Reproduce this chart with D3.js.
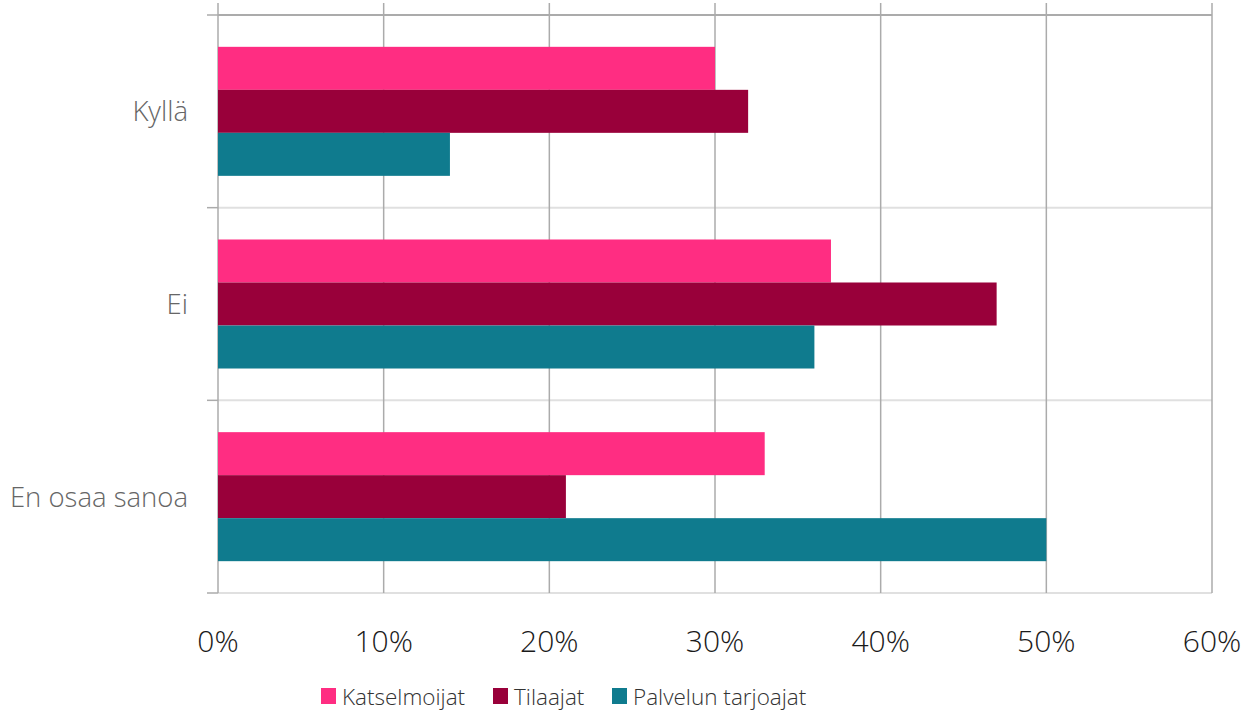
<!DOCTYPE html>
<html><head><meta charset="utf-8">
<script src="https://cdn.jsdelivr.net/npm/d3@7"></script>
<style>body{margin:0;background:#fff;} svg{display:block;}</style>
</head><body>
<svg id="chart" width="1244" height="712"></svg>
<script>
const categories = ["Kyllä", "Ei", "En osaa sanoa"];
const seriesNames = ["Katselmoijat", "Tilaajat", "Palvelun tarjoajat"];
const katselmoijat = [30, 37, 33];
const tilaajat = [32, 47, 21];
const palvelunTarjoajat = [14, 36, 50];
const xTicks = [0, 10, 20, 30, 40, 50, 60];
const colors = ["#FF2D82", "#99003A", "#0F7B8E"];

(function () {
const series = [katselmoijat, tilaajat, palvelunTarjoajat];
const svg = d3.select("#chart");
const pL = 218, pR = 1212, pT = 15, pB = 593;
const font = "'Open Sans', sans-serif";

const x = d3.scaleLinear().domain([0, 60]).range([pL, pR]);
const y = d3.scaleBand().domain(categories).range([pT, pB]).paddingInner(0).paddingOuter(0);
const inner = d3.scaleBand().domain(seriesNames).range([0, y.bandwidth()]).paddingOuter(0.74).paddingInner(0);

// horizontal category grid lines
const bounds = [pT, ...categories.slice(1).map(c => y(c)), pB];
bounds.forEach((b, i) => {
  svg.append("line").attr("x1", pL).attr("x2", pR).attr("y1", b).attr("y2", b)
    .attr("stroke", i === 0 ? "#ababab" : "#e0e0e0").attr("stroke-width", 2);
  svg.append("line").attr("x1", pL - 11).attr("x2", pL).attr("y1", b).attr("y2", b)
    .attr("stroke", "#ababab").attr("stroke-width", 1.5);
});

// vertical grid lines
svg.append("g").selectAll("line").data(xTicks).join("line")
  .attr("x1", d => x(d)).attr("x2", d => x(d)).attr("y1", 3).attr("y2", pB)
  .attr("stroke", "#ababab").attr("stroke-width", 1.5);

// bars
series.forEach((vals, si) => {
  svg.append("g").selectAll("rect").data(vals).join("rect")
    .attr("x", x(0))
    .attr("y", (d, i) => y(categories[i]) + inner(seriesNames[si]))
    .attr("width", d => x(d) - x(0))
    .attr("height", inner.bandwidth())
    .attr("fill", colors[si]);
});

// x tick labels
svg.append("g").selectAll("text").data(xTicks).join("text")
  .attr("x", d => x(d)).attr("y", 652)
  .attr("text-anchor", "middle")
  .attr("font-family", font).attr("font-weight", 300).attr("font-size", 30).attr("fill", "#1a1a1a")
  .text(d => d + "%");

// category labels
svg.append("g").selectAll("text").data(categories).join("text")
  .attr("x", 188).attr("y", d => y(d) + y.bandwidth() / 2 + 10)
  .attr("text-anchor", "end")
  .attr("font-family", font).attr("font-weight", 300).attr("font-size", 27.5).attr("fill", "#666")
  .text(d => d);

// legend
const legendX = [321, 493, 612];
seriesNames.forEach((n, i) => {
  const g = svg.append("g").attr("transform", `translate(${legendX[i]},0)`);
  g.append("rect").attr("x", 0).attr("y", 688).attr("width", 15).attr("height", 16).attr("fill", colors[i]);
  g.append("text").attr("x", 21).attr("y", 705)
    .attr("font-family", font).attr("font-weight", 300).attr("font-size", 22.5).attr("fill", "#333").text(n);
});
})();
</script>
</body></html>
